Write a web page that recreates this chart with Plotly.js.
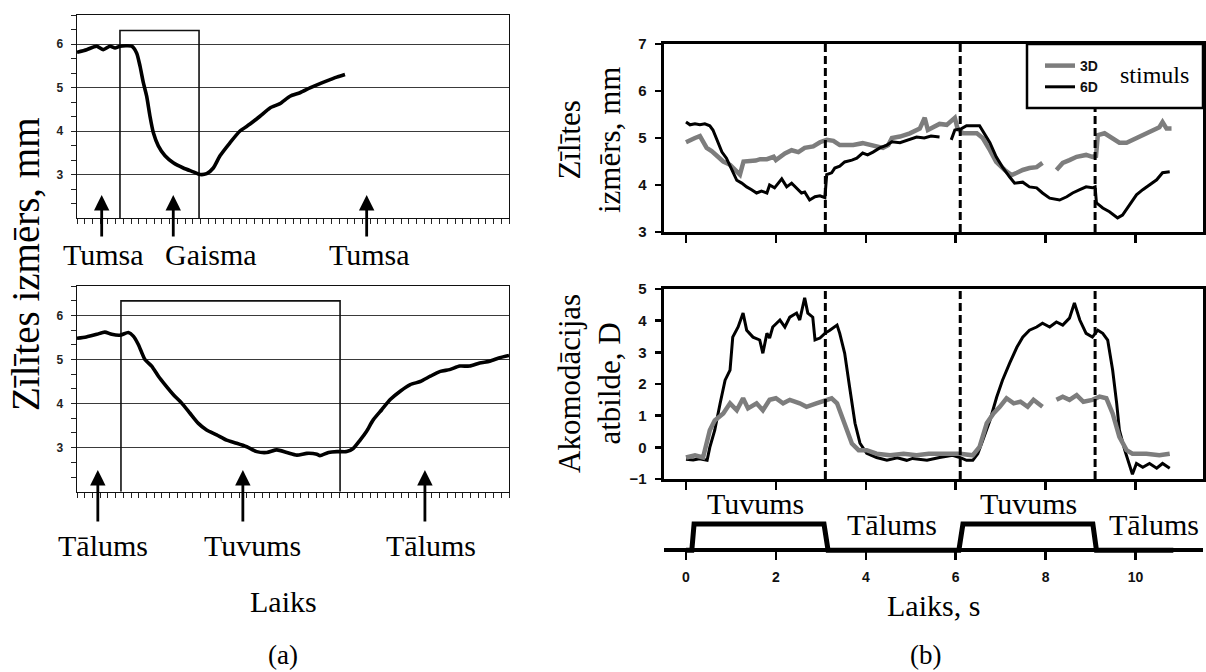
<!DOCTYPE html>
<html>
<head>
<meta charset="utf-8">
<script src="https://cdn.plot.ly/plotly-3.0.1.min.js"></script>
<style>html,body{margin:0;padding:0;background:#fff;}#chart{width:1206px;height:672px;}</style>
</head>
<body>
<div id="chart"></div>
<script>
// ---------------- DATA ----------------
// Panel (a) top: pupil size during dark/light stimulus (time in arbitrary ticks, size in mm)
const aTopTime = [0, 1.25, 2.55, 3.41, 4.28, 4.93, 5.57, 7.09, 7.74, 8.17, 8.6, 9.03, 9.46, 9.9, 10.54, 11.41, 12.48, 13.78, 15.08, 15.94, 16.81, 17.67, 18.54, 19.83, 21.13, 22.43, 23.72, 25.02, 26.32, 27.61, 28.91, 30.2, 31.5, 32.8, 33.67, 34.74];
const aTopSize = [5.81, 5.87, 5.95, 5.87, 5.95, 5.91, 5.95, 5.95, 5.79, 5.49, 5.11, 4.8, 4.34, 3.96, 3.66, 3.43, 3.27, 3.15, 3.06, 3.0, 3.02, 3.15, 3.43, 3.73, 4.0, 4.16, 4.34, 4.53, 4.63, 4.8, 4.88, 4.99, 5.09, 5.18, 5.24, 5.3];
const aTopStimOnOff = [5.57, 15.82];
const aTopStimLevel = 6.31;
const aTopArrows = [3.2, 12.48, 37.55];
const aTopLabels = ['Tumsa', 'Gaisma', 'Tumsa'];

// Panel (a) bottom: pupil size during far/near stimulus
const aBotTime = [0, 1.2, 2.56, 3.6, 4.5, 5.57, 6.65, 7.3, 7.95, 8.8, 9.68, 10.55, 11.4, 12.5, 13.57, 14.65, 15.73, 16.8, 18.1, 19.4, 20.7, 22.0, 23.3, 24.6, 25.9, 27.2, 28.5, 29.8, 31.1, 31.5, 32.6, 33.7, 34.96, 35.8, 36.7, 37.5, 38.4, 39.5, 40.6, 41.9, 43.2, 44.5, 45.8, 47.1, 48.3, 49.6, 50.9, 52.2, 53.5, 54.8, 56.0];
const aBotSize = [5.48, 5.51, 5.57, 5.62, 5.57, 5.55, 5.61, 5.53, 5.34, 5.0, 4.85, 4.62, 4.43, 4.2, 4.01, 3.78, 3.55, 3.4, 3.29, 3.17, 3.1, 3.02, 2.91, 2.89, 2.95, 2.89, 2.83, 2.87, 2.85, 2.82, 2.89, 2.91, 2.91, 2.98, 3.17, 3.36, 3.63, 3.86, 4.09, 4.28, 4.43, 4.5, 4.62, 4.73, 4.77, 4.85, 4.85, 4.92, 4.96, 5.04, 5.09];
const aBotStimOnOff = [5.7, 34.1];
const aBotStimLevel = 6.33;
const aBotArrows = [2.7, 21.5, 45.1];
const aBotLabels = ['Tālums', 'Tuvums', 'Tālums'];

// Panel (b) top: pupil size (mm) vs time (s), [time, value]
const bPupil3D = [[0,4.91],[0.09,4.94],[0.2,5.0],[0.31,5.04],[0.38,4.94],[0.46,4.79],[0.57,4.72],[0.68,4.63],[0.83,4.5],[0.98,4.43],[1.1,4.33],[1.2,4.22],[1.28,4.5],[1.42,4.5],[1.55,4.52],[1.65,4.55],[1.8,4.55],[1.95,4.6],[2.0,4.53],[2.2,4.67],[2.35,4.74],[2.5,4.7],[2.64,4.79],[2.83,4.82],[2.98,4.91],[3.13,4.96],[3.28,4.94],[3.42,4.85],[3.72,4.85],[3.93,4.89],[4.16,4.85],[4.38,4.79],[4.5,4.85],[4.58,5.0],[4.76,5.03],[4.98,5.1],[5.2,5.2],[5.31,5.43],[5.38,5.17],[5.49,5.23],[5.64,5.3],[5.8,5.28],[5.98,5.43],[6.04,5.2],[6.16,5.1],[6.47,5.1],[6.6,5.0],[6.76,4.74],[6.9,4.49],[7.09,4.32],[7.24,4.21],[7.36,4.26],[7.49,4.32],[7.64,4.36],[7.8,4.38],[7.93,4.47],[8.05,null],[8.24,4.32],[8.38,4.47],[8.53,4.53],[8.69,4.6],[8.9,4.64],[9.04,4.6],[9.12,4.62],[9.16,5.06],[9.31,5.1],[9.49,5.0],[9.64,4.9],[9.8,4.9],[9.93,4.96],[10.09,5.02],[10.24,5.1],[10.38,5.17],[10.53,5.23],[10.6,5.34],[10.69,5.2],[10.8,5.2]];
const bPupil6D = [[0,5.34],[0.09,5.28],[0.2,5.3],[0.31,5.28],[0.42,5.3],[0.53,5.26],[0.6,5.17],[0.72,4.9],[0.8,4.7],[0.9,4.57],[1.0,4.36],[1.13,4.1],[1.24,4.04],[1.35,3.96],[1.46,3.9],[1.57,3.83],[1.68,3.87],[1.8,3.83],[1.86,4.0],[1.97,3.94],[2.13,4.13],[2.24,3.96],[2.35,4.04],[2.46,3.94],[2.57,3.83],[2.64,3.85],[2.75,3.68],[2.87,3.75],[2.98,3.77],[3.09,3.73],[3.13,4.22],[3.24,4.26],[3.31,4.36],[3.42,4.4],[3.53,4.49],[3.69,4.53],[3.8,4.57],[3.93,4.68],[4.04,4.64],[4.16,4.7],[4.31,4.79],[4.47,4.85],[4.58,4.92],[4.76,4.9],[4.98,4.98],[5.13,5.02],[5.3,5.0],[5.45,5.04],[5.64,5.02],[5.75,null],[5.9,4.96],[5.98,5.17],[6.13,5.2],[6.24,5.26],[6.53,5.26],[6.64,5.1],[6.76,4.9],[6.9,4.6],[7.04,4.38],[7.2,4.17],[7.31,4.04],[7.49,4.06],[7.64,3.96],[7.8,3.94],[7.93,3.83],[8.09,3.72],[8.31,3.68],[8.47,3.75],[8.6,3.83],[8.76,3.9],[8.9,3.96],[9.04,3.94],[9.1,3.96],[9.13,3.62],[9.27,3.51],[9.42,3.43],[9.6,3.3],[9.71,3.36],[9.87,3.57],[10.02,3.79],[10.16,3.9],[10.31,4.0],[10.47,4.11],[10.6,4.26],[10.76,4.28]];

// Panel (b) bottom: accommodation response (D) vs time (s)
const bAccom6D = [[0,-0.38],[0.16,-0.4],[0.3,-0.36],[0.47,-0.41],[0.53,0],[0.64,0.54],[0.76,1.39],[0.87,2.12],[0.98,2.44],[1.04,3.48],[1.16,3.8],[1.27,4.24],[1.35,3.7],[1.49,3.48],[1.64,3.39],[1.71,2.97],[1.8,3.6],[1.86,3.45],[1.93,3.8],[2.09,4.02],[2.2,3.8],[2.31,4.11],[2.46,4.24],[2.53,4.02],[2.64,4.72],[2.71,4.24],[2.82,4.11],[2.87,3.39],[2.98,3.45],[3.09,3.6],[3.2,3.7],[3.36,3.86],[3.42,3.6],[3.53,2.97],[3.64,1.9],[3.76,0.76],[3.87,0.13],[4.02,-0.19],[4.24,-0.32],[4.47,-0.41],[4.7,-0.33],[4.91,-0.41],[5.04,-0.35],[5.36,-0.41],[5.64,-0.32],[5.93,-0.25],[6.09,-0.32],[6.24,-0.41],[6.38,-0.41],[6.49,-0.2],[6.6,0.22],[6.76,0.85],[6.91,1.58],[7.04,2.12],[7.2,2.66],[7.36,3.16],[7.49,3.48],[7.64,3.7],[7.8,3.8],[7.93,3.92],[8.09,3.8],[8.24,3.96],[8.38,3.86],[8.53,4.08],[8.64,4.56],[8.76,4.02],[8.9,3.6],[9.04,3.48],[9.16,3.7],[9.27,3.6],[9.38,3.39],[9.49,2.44],[9.58,1.39],[9.64,0.54],[9.76,-0.09],[9.87,-0.63],[9.93,-0.85],[10.02,-0.51],[10.16,-0.63],[10.31,-0.51],[10.47,-0.66],[10.6,-0.51],[10.76,-0.66]];
const bAccom3D = [[0,-0.32],[0.2,-0.25],[0.38,-0.32],[0.53,0.54],[0.64,0.85],[0.83,1.07],[0.98,1.39],[1.13,1.17],[1.27,1.55],[1.38,1.23],[1.57,1.39],[1.71,1.17],[1.86,1.5],[2.0,1.55],[2.16,1.39],[2.31,1.5],[2.53,1.39],[2.68,1.28],[2.9,1.39],[3.13,1.5],[3.24,1.55],[3.36,1.39],[3.5,0.85],[3.69,0.12],[3.84,-0.09],[4.02,-0.09],[4.24,-0.2],[4.54,-0.25],[4.84,-0.2],[5.13,-0.25],[5.4,-0.2],[5.64,-0.2],[6.09,-0.2],[6.38,-0.25],[6.53,0.01],[6.69,0.76],[6.84,1.07],[6.98,1.28],[7.13,1.55],[7.29,1.39],[7.44,1.44],[7.6,1.28],[7.73,1.5],[7.93,1.28],[8.05,null],[8.24,1.5],[8.38,1.6],[8.53,1.5],[8.69,1.65],[8.84,1.44],[9.04,1.5],[9.2,1.6],[9.35,1.55],[9.49,1.07],[9.64,0.33],[9.8,-0.09],[9.93,-0.2],[10.24,-0.2],[10.53,-0.25],[10.76,-0.2]];

// Stimulus (near = 1, far = 0) timeline
const stimTime = [0, 0.13, 0.18, 3.07, 3.16, 6.07, 6.16, 9.05, 9.13, 10.84];
const stimLevel = [0, 0, 1, 1, 0, 0, 1, 1, 0, 0];
const switchTimes = [3.1, 6.1, 9.1];
const timeTicks = [0, 2, 4, 6, 8, 10];
const stimLabels = ['Tuvums', 'Tālums', 'Tuvums', 'Tālums'];
const seriesNames = ['3D', '6D'];

// ---------------- LAYOUT HELPERS ----------------
const W = 1206, H = 672;
const fx = p => p / W;
const fy = p => 1 - p / H;
const SERIF = 'Liberation Serif, Times New Roman, serif';
const SANS = 'Liberation Sans, Arial, sans-serif';
const GRAY = '#7d7d7d';

function col(arr, i) { return arr.map(r => r[i]); }
function vlines(times, y0, y1) {
  const xs = [], ys = [];
  times.forEach(t => { xs.push(t, t, null); ys.push(y0, y1, null); });
  return {x: xs, y: ys};
}

const traces = [];
// (a) top
traces.push({x: [aTopStimOnOff[0], aTopStimOnOff[0], aTopStimOnOff[1], aTopStimOnOff[1]], y: [2, aTopStimLevel, aTopStimLevel, 2],
  xaxis: 'x', yaxis: 'y', mode: 'lines', line: {color: '#111', width: 1.6}, showlegend: false, hoverinfo: 'skip'});
traces.push({x: aTopTime, y: aTopSize, xaxis: 'x', yaxis: 'y', mode: 'lines', line: {color: '#000', width: 3.6, shape: 'spline', smoothing: 0.6}, showlegend: false});
// (a) bottom
traces.push({x: [aBotStimOnOff[0], aBotStimOnOff[0], aBotStimOnOff[1], aBotStimOnOff[1]], y: [2, aBotStimLevel, aBotStimLevel, 2],
  xaxis: 'x2', yaxis: 'y2', mode: 'lines', line: {color: '#111', width: 1.6}, showlegend: false, hoverinfo: 'skip'});
traces.push({x: aBotTime, y: aBotSize, xaxis: 'x2', yaxis: 'y2', mode: 'lines', line: {color: '#000', width: 3.6, shape: 'spline', smoothing: 0.6}, showlegend: false});

// (b) top
traces.push({x: col(bPupil3D, 0), y: col(bPupil3D, 1), xaxis: 'x3', yaxis: 'y3', mode: 'lines', name: seriesNames[0],
  line: {color: GRAY, width: 4.5}, connectgaps: false, showlegend: true});
traces.push({x: col(bPupil6D, 0), y: col(bPupil6D, 1), xaxis: 'x3', yaxis: 'y3', mode: 'lines', name: seriesNames[1],
  line: {color: '#000', width: 3}, connectgaps: false, showlegend: true});
const vl3 = vlines(switchTimes, 3, 7);
traces.push({x: vl3.x, y: vl3.y, xaxis: 'x3', yaxis: 'y3', mode: 'lines', line: {color: '#000', width: 3, dash: '8px,4px'}, showlegend: false, hoverinfo: 'skip'});

// (b) bottom
traces.push({x: col(bAccom6D, 0), y: col(bAccom6D, 1), xaxis: 'x4', yaxis: 'y4', mode: 'lines', name: seriesNames[1],
  line: {color: '#000', width: 3}, connectgaps: false, showlegend: false});
traces.push({x: col(bAccom3D, 0), y: col(bAccom3D, 1), xaxis: 'x4', yaxis: 'y4', mode: 'lines', name: seriesNames[0],
  line: {color: GRAY, width: 4.5}, connectgaps: false, showlegend: false});
const vl4 = vlines(switchTimes, -1, 5);
traces.push({x: vl4.x, y: vl4.y, xaxis: 'x4', yaxis: 'y4', mode: 'lines', line: {color: '#000', width: 3, dash: '8px,4px'}, showlegend: false, hoverinfo: 'skip'});

// stimulus timeline
traces.push({x: stimTime, y: stimLevel, xaxis: 'x5', yaxis: 'y5', mode: 'lines', line: {color: '#000', width: 5}, showlegend: false, cliponaxis: false});

// ---------------- AXES ----------------
const leftX = (anchor) => ({domain: [fx(77), fx(509)], range: [0, 56], anchor: anchor, showline: true, mirror: true, linecolor: '#111', linewidth: 1.3,
  ticks: 'outside', tick0: 0, dtick: 1, ticklen: 5, tickwidth: 1, tickcolor: '#222', showticklabels: false, showgrid: false, zeroline: false, fixedrange: true});
const leftY = (anchor, top, bot) => ({domain: [fy(bot), fy(top)], range: [2.0005, 6.667], anchor: anchor, showline: true, mirror: true, linecolor: '#111', linewidth: 1.3,
  ticks: 'outside', tick0: 0, dtick: 1, ticklen: 5, tickwidth: 1, tickcolor: '#222',
  minor: {tick0: 2, dtick: 1/3, ticks: 'outside', ticklen: 5, tickwidth: 1, tickcolor: '#222', showgrid: false},
  showgrid: true, gridcolor: '#3a3a3a', gridwidth: 1, zeroline: false, ticklabelstandoff: 5,
  tickfont: {family: SANS, size: 12, weight: 'bold', color: '#222'}, fixedrange: true});

const rX = (anchor) => ({domain: [fx(663.5), fx(1203)], range: [-0.5, 11.5], anchor: anchor, showline: true, mirror: true, linecolor: '#000', linewidth: 3,
  ticks: 'outside', tickvals: timeTicks, ticklen: 8, tickwidth: 2.5, tickcolor: '#000', showticklabels: false, showgrid: false, zeroline: false, fixedrange: true});
const rY = (anchor, top, bot, range) => ({domain: [fy(bot), fy(top)], range: range, anchor: anchor, showline: true, mirror: true, linecolor: '#000', linewidth: 3,
  ticks: 'outside', dtick: 1, ticklen: 6, tickwidth: 2.5, tickcolor: '#000', showgrid: false, zeroline: false, ticklabelstandoff: 5,
  tickfont: {family: SANS, size: 15, weight: 'bold', color: '#111'}, fixedrange: true});

// ---------------- ANNOTATIONS ----------------
const ann = [];
function txt(text, xp, yp, size, extra) {
  ann.push(Object.assign({text: text, xref: 'paper', yref: 'paper', x: fx(xp), y: fy(yp), xanchor: 'center', yanchor: 'middle',
    showarrow: false, font: {family: SERIF, size: size, color: '#000'}}, extra || {}));
}
function arrows(xs, xref, tipPx, len) {
  xs.forEach(xv => ann.push({text: '', xref: xref, yref: 'paper', x: xv, y: fy(tipPx), ax: 0, ay: len, axref: 'pixel', ayref: 'pixel',
    showarrow: true, arrowhead: 2, arrowsize: 1.1, arrowwidth: 2.8, arrowcolor: '#000'}));
}
arrows(aTopArrows, 'x', 195, 43);
arrows(aBotArrows, 'x2', 470, 53);
[103, 211, 369].forEach((xp, i) => txt(aTopLabels[i], xp, 254, 30));
[103, 252, 431].forEach((xp, i) => txt(aBotLabels[i], xp, 545, 30));
txt('Laiks', 283, 601, 30);
txt('(a)', 283, 655, 27);
txt('(b)', 925, 655, 27);
txt('Zīlītes izmērs, mm', 26, 264, 39, {textangle: -90});
txt('Zīlītes<br>izmērs, mm', 589, 140, 31, {textangle: -90});
txt('Akomodācijas<br>atbilde, D', 589, 384, 31, {textangle: -90});
txt(stimLabels[0], 755, 503, 30);
txt(stimLabels[1], 892, 524, 30);
txt(stimLabels[2], 1028, 503, 30);
txt(stimLabels[3], 1154, 524, 30);
txt('Laiks, s', 933, 605, 30);
txt('stimuls', 1118, 75, 24, {xanchor: 'left'});

const layout = {
  width: W, height: H, margin: {l: 0, r: 0, t: 0, b: 0}, paper_bgcolor: '#fff', plot_bgcolor: 'rgba(0,0,0,0)',
  showlegend: true,
  legend: {x: fx(1040), y: fy(50), xanchor: 'left', yanchor: 'top', bgcolor: 'rgba(0,0,0,0)', borderwidth: 0,
    font: {family: SANS, size: 14, weight: 'bold', color: '#111'}, itemwidth: 30, tracegroupgap: 0},
  xaxis: leftX('y'), yaxis: leftY('x', 15, 218),
  xaxis2: leftX('y2'), yaxis2: leftY('x2', 286, 491.7),
  xaxis3: rX('y3'), yaxis3: rY('x3', 44, 232, [3, 7]),
  xaxis4: rX('y4'), yaxis4: rY('x4', 289, 479, [-1, 5]),
  xaxis5: {domain: [fx(663.5), fx(1203)], range: [-0.5, 11.5], anchor: 'free', position: fy(550), showline: true, linecolor: '#000', linewidth: 4,
    ticks: 'outside', tickvals: timeTicks, ticklen: 8, tickwidth: 2.5, tickcolor: '#000', showgrid: false, zeroline: false, ticklabelstandoff: 5,
    tickfont: {family: SANS, size: 14, weight: 'bold', color: '#111'}, fixedrange: true},
  yaxis5: {domain: [fy(558), fy(511)], range: [-0.3, 1.5], anchor: 'x5', visible: false, fixedrange: true},
  shapes: [{type: 'rect', xref: 'paper', yref: 'paper', x0: fx(1027), x1: fx(1203), y0: fy(108), y1: fy(44), line: {color: '#000', width: 2.5}, fillcolor: '#fff', layer: 'above'}],
  annotations: ann
};

Plotly.newPlot('chart', traces, layout, {displayModeBar: false, staticPlot: true});
</script>
</body>
</html>
